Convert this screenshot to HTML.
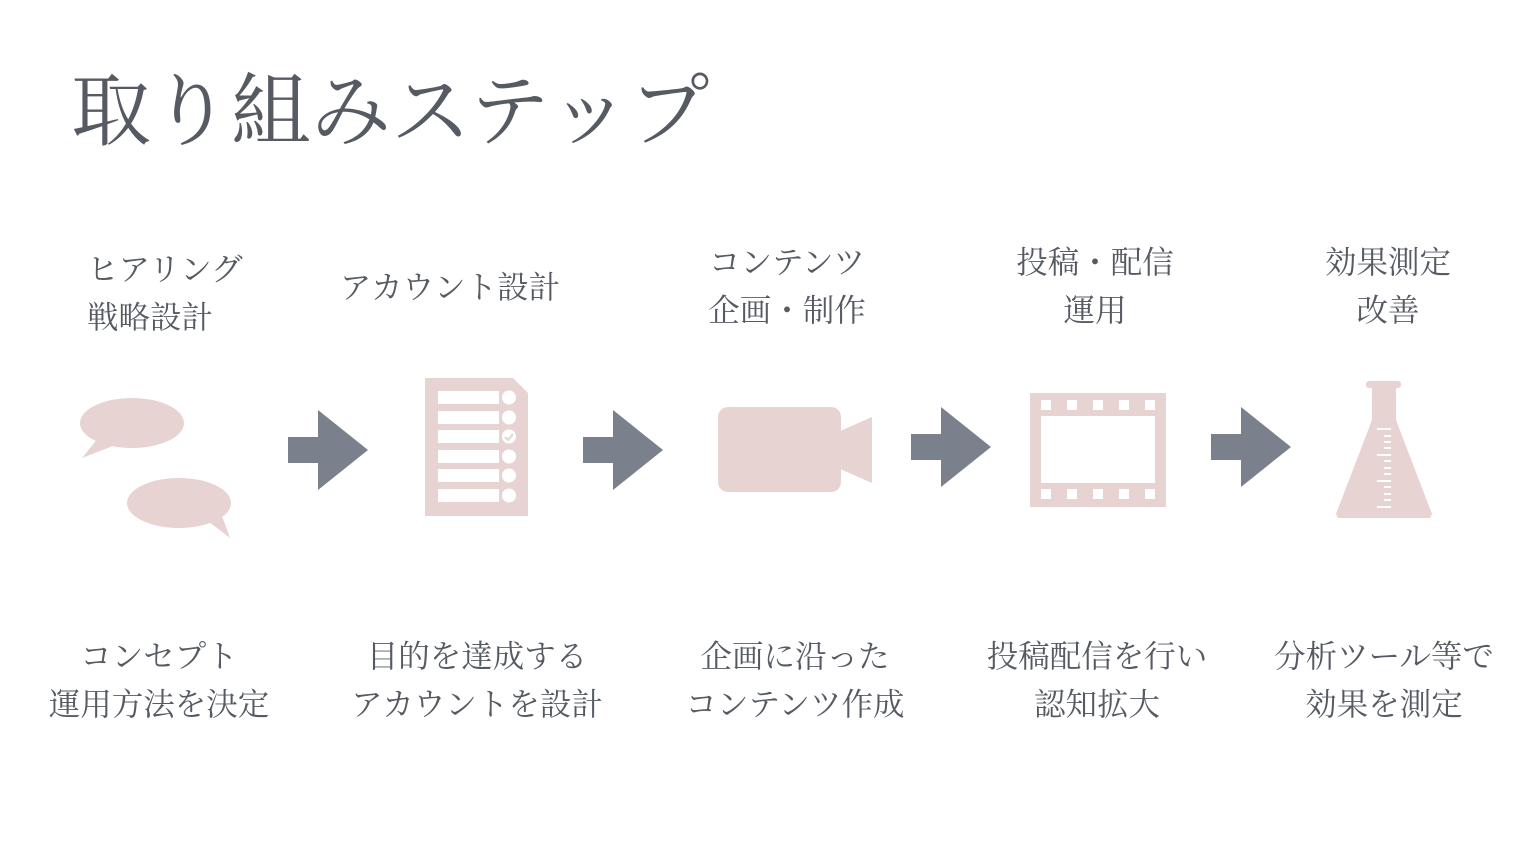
<!DOCTYPE html>
<html><head><meta charset="utf-8"><style>
body{margin:0;width:1514px;height:856px;background:#fff;position:relative;overflow:hidden;font-family:"Liberation Serif","Noto Serif CJK SC","Noto Sans CJK JP",serif;color:#565b63}
.t{position:absolute;font-size:31.5px;line-height:48px;white-space:nowrap;text-align:center;transform:translateX(-50%)}
</style></head><body>
<div style="position:absolute;left:71px;top:63px;font-size:80px;letter-spacing:0px;line-height:100px">取り組みステップ</div>

<div class="t" style="left:87px;top:246px;text-align:left;transform:none">ヒアリング<br>戦略設計</div>
<div class="t" style="left:450px;top:264px">アカウント設計</div>
<div class="t" style="left:787px;top:239px">コンテンツ<br>企画・制作</div>
<div class="t" style="left:1095px;top:239px">投稿・配信<br>運用</div>
<div class="t" style="left:1388px;top:239px">効果測定<br>改善</div>

<div class="t" style="left:159px;top:633px">コンセプト<br>運用方法を決定</div>
<div class="t" style="left:477px;top:633px">目的を達成する<br>アカウントを設計</div>
<div class="t" style="left:795px;top:633px">企画に沿った<br>コンテンツ作成</div>
<div class="t" style="left:1097px;top:633px">投稿配信を行い<br>認知拡大</div>
<div class="t" style="left:1384px;top:633px">分析ツール等で<br>効果を測定</div>

<svg width="1514" height="856" style="position:absolute;left:0;top:0">
<g fill="#7a808c">
<polygon points="288,437 318,437 318,410 368,450 318,490 318,463 288,463"/>
<polygon points="583,437 613,437 613,410 663,450 613,490 613,463 583,463"/>
<polygon points="911,434 941,434 941,407 991,447 941,487 941,460 911,460"/>
<polygon points="1211,434 1241,434 1241,407 1291,447 1241,487 1241,460 1211,460"/>
</g>
<g fill="#e8d3d3">
<ellipse cx="132" cy="423" rx="52" ry="25"/>
<polygon points="98,438 82,458 118,444"/>
<ellipse cx="179" cy="503" rx="52" ry="25"/>
<polygon points="200,515 230,538 218,505"/>
<polygon points="425,378 513,378 528,393 528,516 425,516"/>
<rect x="718" y="407" width="123" height="85" rx="10"/>
<polygon points="838,432 872,417 872,483 838,468"/>
<rect x="1030" y="393" width="136" height="114"/>
<rect x="1366" y="381" width="35" height="7" rx="3"/>
<polygon points="1372,386 1396,386 1396,420 1432,514 1430,518 1338,518 1336,514 1372,420"/>
</g>
<g fill="#fff">
<rect x="438" y="391" width="61" height="13"/><circle cx="509" cy="397.5" r="7"/>
<rect x="438" y="411" width="61" height="13"/><circle cx="509" cy="417.5" r="7"/>
<rect x="438" y="430" width="61" height="13"/><circle cx="509" cy="436.5" r="7"/>
<rect x="438" y="450" width="61" height="13"/><circle cx="509" cy="456.5" r="7"/>
<rect x="438" y="469" width="61" height="13"/><circle cx="509" cy="475.5" r="7"/>
<rect x="438" y="489" width="61" height="13"/><circle cx="509" cy="495.5" r="7"/>
<rect x="1041" y="416" width="114" height="67"/>
<rect x="1041" y="400" width="10" height="10"/><rect x="1067" y="400" width="10" height="10"/><rect x="1093" y="400" width="10" height="10"/><rect x="1119" y="400" width="10" height="10"/><rect x="1145" y="400" width="10" height="10"/>
<rect x="1041" y="489" width="10" height="10"/><rect x="1067" y="489" width="10" height="10"/><rect x="1093" y="489" width="10" height="10"/><rect x="1119" y="489" width="10" height="10"/><rect x="1145" y="489" width="10" height="10"/>
<rect x="1377" y="428" width="14" height="2"/><rect x="1384" y="435" width="7" height="2"/><rect x="1384" y="441" width="7" height="2"/><rect x="1384" y="447" width="7" height="2"/><rect x="1377" y="454" width="14" height="2"/><rect x="1384" y="460" width="7" height="2"/><rect x="1384" y="467" width="7" height="2"/><rect x="1384" y="473" width="7" height="2"/><rect x="1377" y="480" width="14" height="2"/><rect x="1384" y="486" width="7" height="2"/><rect x="1384" y="493" width="7" height="2"/><rect x="1384" y="499" width="7" height="2"/><rect x="1377" y="506" width="14" height="2"/>
</g>
<polyline points="505,437 508,440 513,434" fill="none" stroke="#e8d3d3" stroke-width="2"/>
</svg>
</body></html>
